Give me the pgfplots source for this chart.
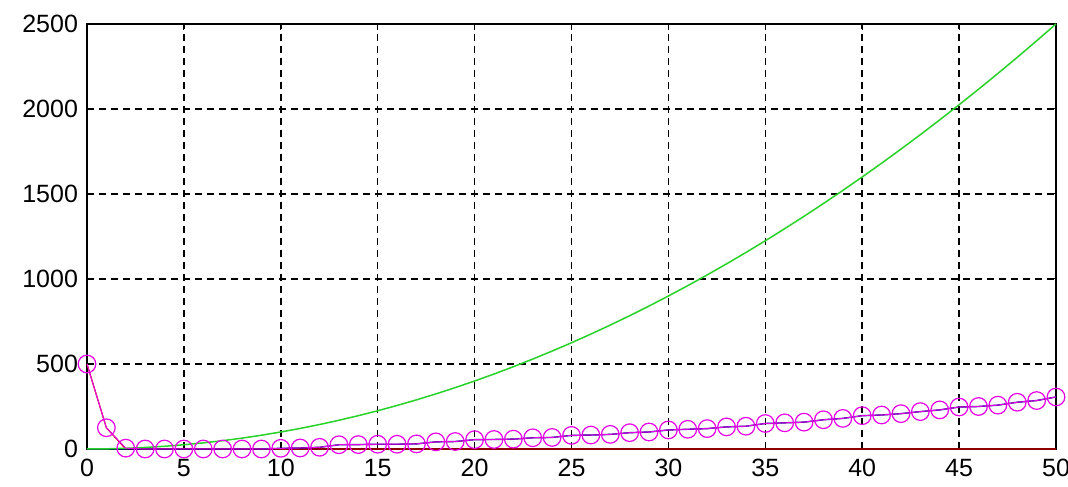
\documentclass[border=0pt]{standalone}
\usepackage{pgfplots}
\pgfplotsset{compat=1.18}
\usepackage{fontspec}
\setmainfont{Liberation Sans}
\definecolor{mgreen}{RGB}{40,210,40}
\definecolor{mnavy}{RGB}{0,0,140}
\definecolor{mred}{RGB}{220,0,0}
\definecolor{mmag}{RGB}{230,0,230}
\begin{document}
\begin{tikzpicture}
\begin{axis}[
  scale only axis, width=484.5pt, height=212.5pt,
  xmin=0, xmax=50, ymin=0, ymax=2500,
  xtick={0,5,...,50}, ytick={0,500,...,2500},
  grid=major,
  major grid style={black, line width=0.75pt, dash pattern=on 3.5pt off 2.5pt},
  axis line style={black, line width=1pt},
  tick style={black, line width=0.5pt},
  tick align=inside, major tick length=3pt,
  ticklabel style={font=\fontsize{12.5}{14}\selectfont},
  /pgf/number format/assume math mode=true,
  /pgf/number format/1000 sep={},
  yticklabel style={xshift=-1pt},
  xticklabel style={yshift=-1.5pt},
  clip=false,
]
% red series
\addplot[mred, line width=0.6pt] coordinates {
(0,500) (1,125) (2,0) (3,0) (4,0) (5,0) (6,0) (7,0) (8,0) (9,0) (10,0)
(15,0) (20,0) (25,0) (30,0) (35,0) (40,0) (45,0) (50,0)};
% navy series
\addplot[mnavy, line width=0.7pt] coordinates {
(0,0) (1,0) (2,0) (3,0) (4,0) (5,0) (6,0) (7,0) (8,0) (9,0)
(10,4) (11,6) (12,10) (13,25) (14,26) (15,28) (16,28) (17,30) (18,42) (19,44)
(20,55) (21,56) (22,58) (23,66) (24,68) (25,80) (26,82) (27,86) (28,96) (29,100)
(30,112) (31,116) (32,120) (33,130) (34,134) (35,150) (36,154) (37,158) (38,172) (39,180)
(40,196) (41,200) (42,208) (43,220) (44,230) (45,247) (46,250) (47,258) (48,275) (49,285)
(50,306)};
% green series
\addplot[mgreen, line width=0.75pt] coordinates {
(0,0) (1,1) (2,4) (3,9) (4,16) (5,25) (6,36) (7,49) (8,64) (9,81) (10,100)
(11,121) (12,144) (13,169) (14,196) (15,225) (16,256) (17,289) (18,324) (19,361) (20,400)
(21,441) (22,484) (23,529) (24,576) (25,625) (26,676) (27,729) (28,784) (29,841) (30,900)
(31,961) (32,1024) (33,1089) (34,1156) (35,1225) (36,1296) (37,1369) (38,1444) (39,1521) (40,1600)
(41,1681) (42,1764) (43,1849) (44,1936) (45,2025) (46,2116) (47,2209) (48,2304) (49,2401) (50,2500)};
% magenta series with circles
\addplot[mmag, line width=0.5pt, mark=o, mark size=4.4pt, mark options={mmag, line width=0.6pt, solid}] coordinates {
(0,500) (1,125) (2,5) (3,0) (4,0) (5,0) (6,0) (7,0) (8,0) (9,0)
(10,4) (11,6) (12,10) (13,25) (14,26) (15,28) (16,28) (17,30) (18,42) (19,44)
(20,55) (21,56) (22,58) (23,66) (24,68) (25,80) (26,82) (27,86) (28,96) (29,100)
(30,112) (31,116) (32,120) (33,130) (34,134) (35,150) (36,154) (37,158) (38,172) (39,180)
(40,196) (41,200) (42,208) (43,220) (44,230) (45,247) (46,250) (47,258) (48,275) (49,285)
(50,306)};
\end{axis}
\pgfresetboundingbox
\path ([xshift=-43.5pt,yshift=-18.5pt]current axis.south west) rectangle ([xshift=6pt,yshift=12pt]current axis.north east);
\end{tikzpicture}
\end{document}
